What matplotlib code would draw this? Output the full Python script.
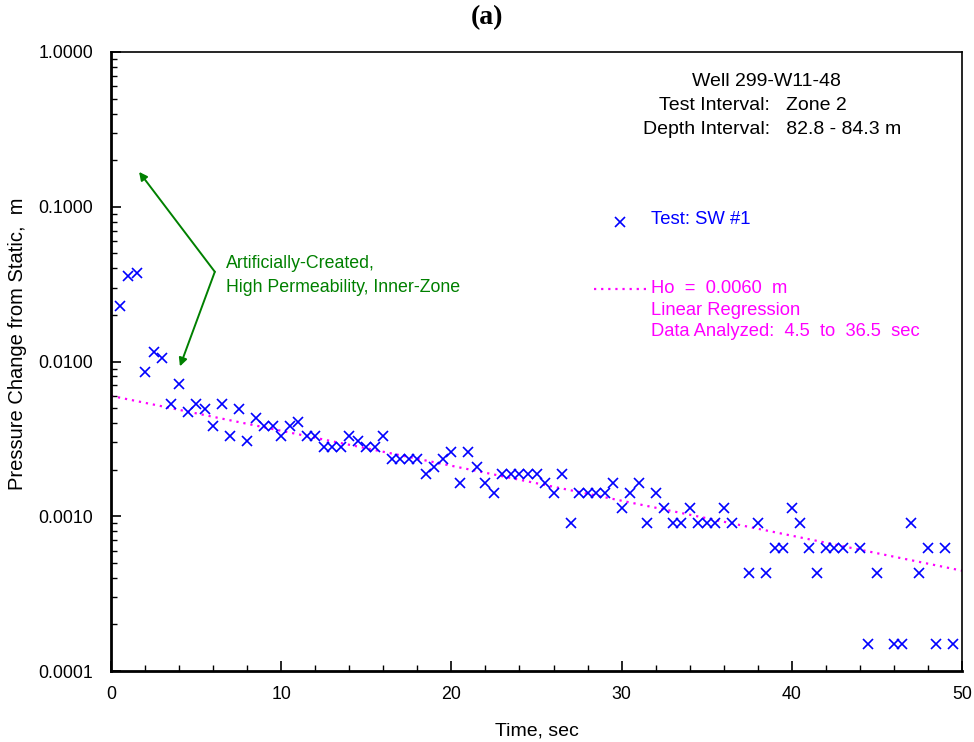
import matplotlib
matplotlib.use("Agg")
import matplotlib.pyplot as plt
import numpy as np
from matplotlib.ticker import FixedLocator, FuncFormatter, LogLocator, NullFormatter, MultipleLocator

plt.rcParams['font.family'] = ['Liberation Sans', 'DejaVu Sans']

# ---- data ----
time_s = [0.5, 1.0, 1.5, 2.0, 2.5, 3.0, 3.5, 4.0, 4.5, 5.0,
          5.5, 6.0, 6.5, 7.0, 7.5, 8.0, 8.5, 9.0, 9.5, 10.0,
          10.5, 11.0, 11.5, 12.0, 12.5, 13.0, 13.5, 14.0, 14.5, 15.0,
          15.5, 16.0, 16.5, 17.0, 17.5, 18.0, 18.5, 19.0, 19.5, 20.0,
          20.5, 21.0, 21.5, 22.0, 22.5, 23.0, 23.5, 24.0, 24.5, 25.0,
          25.5, 26.0, 26.5, 27.0, 27.5, 28.0, 28.5, 29.0, 29.5, 30.0,
          30.5, 31.0, 31.5, 32.0, 32.5, 33.0, 33.5, 34.0, 34.5, 35.0,
          35.5, 36.0, 36.5, 37.5, 38.0, 38.5, 39.0, 39.5, 40.0,
          40.5, 41.0, 41.5, 42.0, 42.5, 43.0, 44.0, 44.5, 45.0,
          46.0, 46.5, 47.0, 47.5, 48.0, 48.5, 49.0, 49.5]
pressure_m = [0.0228, 0.0357, 0.0372, 0.00859, 0.0115, 0.0106, 0.00529, 0.00716, 0.00474, 0.00529,
              0.00495, 0.00383, 0.00529, 0.00330, 0.00495, 0.00305, 0.00434, 0.00383, 0.00383, 0.00330,
              0.00383, 0.00405, 0.00330, 0.00330, 0.00281, 0.00281, 0.00281, 0.00330, 0.00308, 0.00281,
              0.00281, 0.00330, 0.00233, 0.00233, 0.00233, 0.00233, 0.00187, 0.00207, 0.00233, 0.00259,
              0.00163, 0.00259, 0.00209, 0.00163, 0.00141, 0.00187, 0.00187, 0.00187, 0.00187, 0.00187,
              0.00163, 0.00141, 0.00187, 0.00090, 0.00141, 0.00141, 0.00141, 0.00141, 0.00163, 0.00113,
              0.00141, 0.00163, 0.00090, 0.00141, 0.00113, 0.00090, 0.00090, 0.00113, 0.00090, 0.00090,
              0.00090, 0.00113, 0.00090, 0.00043, 0.00090, 0.00043, 0.00062, 0.00062, 0.00113,
              0.00090, 0.00062, 0.00043, 0.00062, 0.00062, 0.00062, 0.00062, 0.00015, 0.00043,
              0.00015, 0.00015, 0.00090, 0.00043, 0.00062, 0.00015, 0.00062, 0.00015]

fit_time = [0.0, 50.0]
fit_head = [0.0060, 0.000445]

y_ticks = [0.0001, 0.001, 0.01, 0.1, 1.0]
x_ticks = [0, 10, 20, 30, 40, 50]

W, H = 974, 742
fig = plt.figure(figsize=(W / 100, H / 100), dpi=100)
L, R, T, B = 111, 962, 52, 671
ax = fig.add_axes([L / W, 1 - B / H, (R - L) / W, (B - T) / H])

blue = '#0000FF'
mag = '#FF00FF'
green = '#008000'

ax.plot(fit_time, fit_head, linestyle=(0, (1, 2.2)), color=mag, lw=1.6)
ax.plot(time_s, pressure_m, linestyle='none', marker='x', color=blue,
        markersize=7, markeredgewidth=1.2)

ax.set_yscale('log')
ax.set_xlim(0, 50)
ax.set_ylim(0.0001, 1.0)
ax.yaxis.set_major_locator(FixedLocator(y_ticks))
ax.yaxis.set_major_formatter(FuncFormatter(lambda v, p: f"{v:.4f}"))
ax.yaxis.set_minor_locator(LogLocator(base=10, subs=np.arange(2, 10), numticks=20))
ax.yaxis.set_minor_formatter(NullFormatter())
ax.xaxis.set_major_locator(FixedLocator(x_ticks))
ax.xaxis.set_minor_locator(MultipleLocator(2))

ax.tick_params(which='both', direction='in', labelsize=12.8, top=False, right=False)
ax.tick_params(axis='y', which='major', length=7, width=1.2, pad=13)
ax.tick_params(axis='x', which='major', length=7, width=1.2, pad=11)
ax.tick_params(which='minor', length=4, width=1.0)
for s in ['left', 'bottom']:
    ax.spines[s].set_linewidth(2.0)
for s in ['top', 'right']:
    ax.spines[s].set_linewidth(1.2)

ax.set_xlabel('Time, sec', fontsize=14, labelpad=14)
ax.set_ylabel('Pressure Change from Static,  m', fontsize=14.5)
ax.yaxis.set_label_coords((27 - L) / (R - L), (B - 344) / (B - T))

fig.text(487 / W, 1 - 18 / H, '(a)', fontsize=20, fontweight='bold',
         family='Liberation Serif', ha='center', va='center')

# annotation arrows
ax.annotate('', xy=(1.65, 0.168), xytext=(6.1, 0.038),
            arrowprops=dict(arrowstyle='-|>', color=green, lw=1.4, mutation_scale=12,
                            shrinkA=0, shrinkB=0))
ax.annotate('', xy=(4.05, 0.0093), xytext=(6.1, 0.038),
            arrowprops=dict(arrowstyle='-|>', color=green, lw=1.4, mutation_scale=12,
                            shrinkA=0, shrinkB=0))
fig.text(226 / W, 1 - 264 / H, 'Artificially-Created,', color=green, fontsize=12.8, va='center')
fig.text(226 / W, 1 - 287 / H, 'High Permeability, Inner-Zone', color=green, fontsize=12.8, va='center')

# info box
fig.text(692 / W, 1 - 81 / H, 'Well 299-W11-48', fontsize=14, va='center')
fig.text(659 / W, 1 - 105 / H, 'Test Interval:   Zone 2', fontsize=14, va='center')
fig.text(643 / W, 1 - 130 / H, 'Depth Interval:   82.8 - 84.3 m', fontsize=14, va='center')

# legend
fig.lines.append(plt.Line2D([620 / W], [1 - 222 / H], marker='x', color=blue, markersize=7,
                            markeredgewidth=1.2, linestyle='none', transform=fig.transFigure))
fig.text(651 / W, 1 - 220 / H, 'Test: SW #1', color=blue, fontsize=13.3, va='center')
fig.lines.append(plt.Line2D([594 / W, 646 / W], [1 - 289 / H, 1 - 289 / H], color=mag,
                            linestyle=(0, (1, 2.2)), lw=1.6, transform=fig.transFigure))
fig.text(651 / W, 1 - 289 / H, 'Ho  =  0.0060  m', color=mag, fontsize=13.2, va='center')
fig.text(651 / W, 1 - 310 / H, 'Linear Regression', color=mag, fontsize=13.2, va='center')
fig.text(651 / W, 1 - 332 / H, 'Data Analyzed:  4.5  to  36.5  sec', color=mag, fontsize=13.2, va='center')

fig.savefig('out.png', dpi=100)
